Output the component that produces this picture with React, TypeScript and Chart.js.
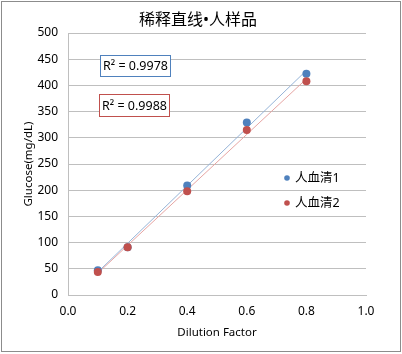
import React, { useEffect, useRef } from "react";
import { Chart, registerables } from "chart.js";

Chart.register(...registerables);

const TITLE = "稀释直线•人样品";
const X_TITLE = "Dilution Factor";
const Y_TITLE = "Glucose(mg/dL)";
const dilution = [0.1, 0.2, 0.4, 0.6, 0.8];
const serum1 = [47, 91, 209, 329, 422];
const serum2 = [44, 91, 198, 315, 408];
const seriesNames = ["人血清1", "人血清2"];
const r2Labels = ["R² = 0.9978", "R² = 0.9988"];

const BLUE = "#4f81bd";
const RED = "#c0504d";
const BLUE_LINE = "#95b3d7";
const RED_LINE = "#e6a5a3";
const CJK = '"Noto Sans", "Noto Sans CJK SC", sans-serif';
const LATIN = '"Noto Sans", "Open Sans", sans-serif';

function fitLine(xs: number[], ys: number[]) {
  const n = xs.length;
  const mx = xs.reduce((a, b) => a + b, 0) / n;
  const my = ys.reduce((a, b) => a + b, 0) / n;
  let sxx = 0, sxy = 0;
  for (let i = 0; i < n; i++) {
    sxx += (xs[i] - mx) ** 2;
    sxy += (xs[i] - mx) * (ys[i] - my);
  }
  const b = sxy / sxx;
  const a = my - b * mx;
  const x0 = Math.min(...xs), x1 = Math.max(...xs);
  return [{ x: x0, y: a + b * x0 }, { x: x1, y: a + b * x1 }];
}

const decor = {
  id: "decor",
  afterDraw(chart: any) {
    const ctx = chart.ctx;
    ctx.save();
    // outer border
    ctx.strokeStyle = "#8c8c8c";
    ctx.lineWidth = 1;
    ctx.strokeRect(1.5, 1.5, 399, 350);
    // title
    ctx.fillStyle = "#000";
    ctx.font = `16px ${CJK}`;
    ctx.textAlign = "center";
    ctx.textBaseline = "middle";
    ctx.fillText(TITLE, 198, 20);
    // R² boxes
    const boxes = [
      { x: 100, y: 55, w: 70, h: 21, c: BLUE },
      { x: 99, y: 94, w: 70, h: 22, c: RED },
    ];
    ctx.font = `12.5px ${LATIN}`;
    boxes.forEach((b, i) => {
      ctx.fillStyle = "#fff";
      ctx.fillRect(b.x, b.y, b.w, b.h);
      ctx.strokeStyle = b.c;
      ctx.strokeRect(b.x + 0.5, b.y + 0.5, b.w, b.h);
      ctx.fillStyle = "#000";
      ctx.textAlign = "center";
      ctx.fillText(r2Labels[i], b.x + b.w / 2 + 0.5, b.y + b.h / 2 + 1);
    });
    // legend
    const legend = [
      { y: 178, c: BLUE },
      { y: 203, c: RED },
    ];
    ctx.font = `12.5px ${CJK}`;
    ctx.textAlign = "left";
    legend.forEach((l, i) => {
      ctx.fillStyle = l.c;
      ctx.beginPath();
      ctx.arc(287, l.y, 2.8, 0, Math.PI * 2);
      ctx.fill();
      ctx.fillStyle = "#000";
      ctx.fillText(seriesNames[i], 295, l.y);
    });
    ctx.restore();
  },
};

export default function App() {
  const ref = useRef<HTMLCanvasElement>(null);
  useEffect(() => {
    const pts = (ys: number[]) => dilution.map((x, i) => ({ x, y: ys[i] }));
    const chart = new Chart(ref.current!, {
      type: "scatter",
      data: {
        datasets: [
          {
            label: seriesNames[0] + " trend",
            data: fitLine(dilution, serum1),
            showLine: true,
            borderColor: BLUE_LINE,
            borderWidth: 1,
            pointRadius: 0,
            order: 3,
          },
          {
            label: seriesNames[1] + " trend",
            data: fitLine(dilution, serum2),
            showLine: true,
            borderColor: RED_LINE,
            borderWidth: 1,
            pointRadius: 0,
            order: 2,
          },
          {
            label: seriesNames[0],
            data: pts(serum1),
            backgroundColor: BLUE,
            borderColor: BLUE,
            borderWidth: 0,
            pointRadius: 4,
            order: 1,
          },
          {
            label: seriesNames[1],
            data: pts(serum2),
            backgroundColor: RED,
            borderColor: RED,
            borderWidth: 0,
            pointRadius: 4,
            order: 0,
          },
        ],
      },
      options: {
        responsive: false,
        animation: false,
        devicePixelRatio: 1,
        layout: { padding: { left: 0, right: 36, top: 33, bottom: 0 } },
        plugins: { legend: { display: false }, tooltip: { enabled: false }, title: { display: false } },
        scales: {
          x: {
            type: "linear",
            min: 0,
            max: 1,
            ticks: {
              stepSize: 0.2,
              callback: (v: any) => Number(v).toFixed(1),
              color: "#000",
              font: { family: LATIN, size: 12 },
              padding: 9,
              maxRotation: 0,
            },
            grid: { display: false, drawTicks: false },
            border: { color: "#bfbfbf", width: 1 },
            title: {
              display: true,
              text: X_TITLE,
              color: "#000",
              font: { family: LATIN, size: 11.5 },
              padding: { top: 2, bottom: 14 },
            },
            afterFit: (s: any) => {
              s.height = 59;
            },
          },
          y: {
            min: 0,
            max: 500,
            ticks: {
              stepSize: 50,
              color: "#000",
              font: { family: LATIN, size: 12 },
              padding: 10,
            },
            grid: { color: "#bfbfbf", drawTicks: false },
            border: { color: "#bfbfbf", width: 1 },
            title: {
              display: true,
              text: Y_TITLE,
              color: "#000",
              font: { family: LATIN, size: 11.5 },
              padding: { top: 22, bottom: 0 },
            },
            afterFit: (s: any) => {
              s.width = 68;
            },
          },
        },
      },
      plugins: [decor],
    } as any);
    return () => chart.destroy();
  }, []);
  return (
    <div style={{ position: "fixed", left: 0, top: 0, width: 402, height: 354, background: "#fff" }}>
      <canvas ref={ref} width={402} height={354} style={{ display: "block" }} />
    </div>
  );
}
